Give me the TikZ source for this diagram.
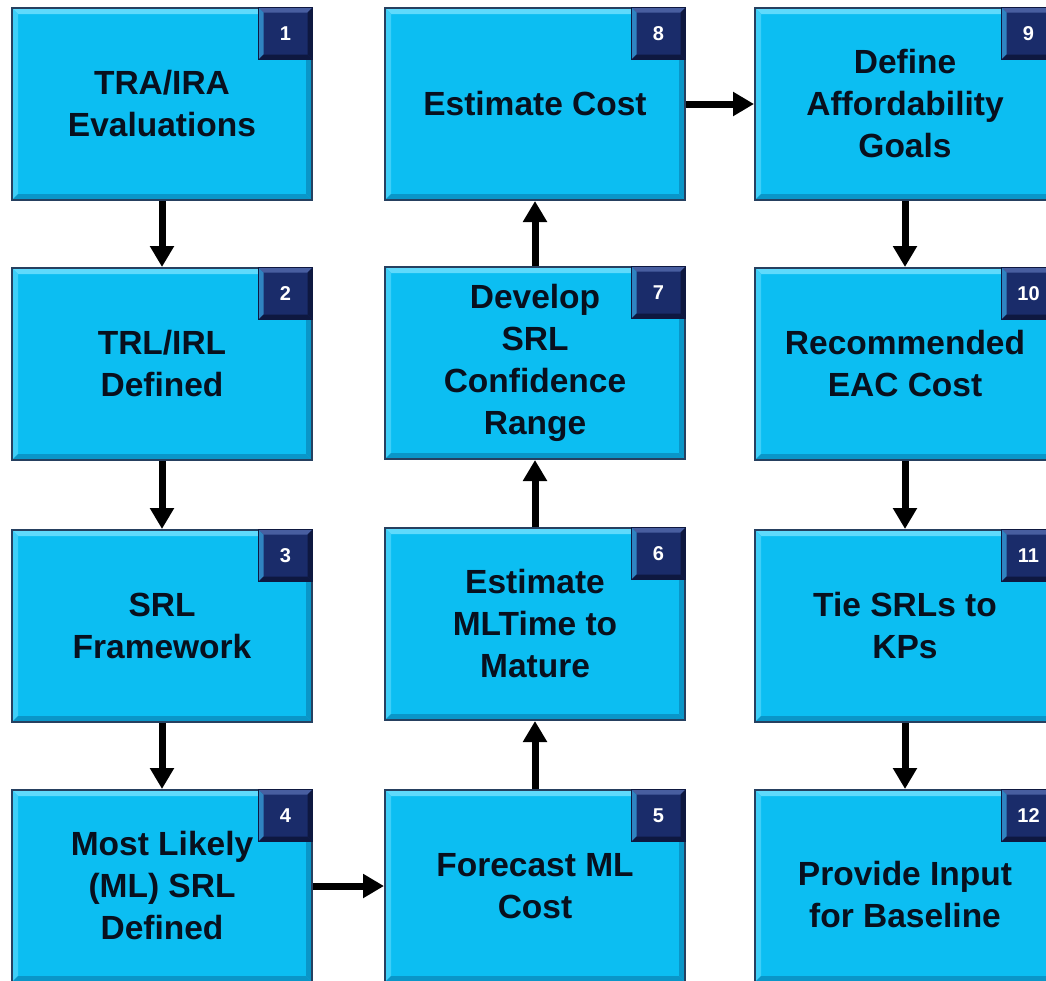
\documentclass[tikz,border=0pt]{standalone}
\usepackage{fontspec}
\setmainfont{Liberation Sans}
\usetikzlibrary{arrows.meta}

\definecolor{boxcyan}{RGB}{12,190,242}
\definecolor{boxlight}{RGB}{95,218,252}
\definecolor{boxshade}{RGB}{10,150,200}
\definecolor{boxedge}{RGB}{38,64,96}
\definecolor{badgefill}{RGB}{26,44,106}
\definecolor{badgelight}{RGB}{72,94,160}
\definecolor{badgeshade}{RGB}{14,24,64}
\definecolor{txtdark}{RGB}{8,16,30}

\tikzset{
  bevel/.style n args={3}{
    path picture={
      \fill[#1] (path picture bounding box.north west) -- (path picture bounding box.north east)
        -- ([xshift=-#3,yshift=-#3]path picture bounding box.north east)
        -- ([xshift=#3,yshift=-#3]path picture bounding box.north west) -- cycle;
      \fill[#1!60!boxcyan] (path picture bounding box.north west) -- ([xshift=#3,yshift=-#3]path picture bounding box.north west)
        -- ([xshift=#3,yshift=#3]path picture bounding box.south west)
        -- (path picture bounding box.south west) -- cycle;
      \fill[#2] (path picture bounding box.south west) -- (path picture bounding box.south east)
        -- ([xshift=-#3,yshift=#3]path picture bounding box.south east)
        -- ([xshift=#3,yshift=#3]path picture bounding box.south west) -- cycle;
      \fill[#2] (path picture bounding box.north east) -- ([xshift=-#3,yshift=-#3]path picture bounding box.north east)
        -- ([xshift=-#3,yshift=#3]path picture bounding box.south east)
        -- (path picture bounding box.south east) -- cycle;
    }},
  stepbox/.style={rectangle, minimum width=300pt, minimum height=192pt, inner sep=0pt,
    fill=boxcyan, draw=boxedge, line width=2pt, align=center, text=txtdark,
    font=\fontsize{33.5}{42}\selectfont\bfseries,
    bevel={boxlight}{boxshade}{6pt}},
  badge/.style={rectangle, anchor=north east, minimum width=54pt, minimum height=52pt, inner sep=0pt,
    fill=badgefill, draw=badgeshade, line width=1pt, text=white,
    font=\fontsize{20}{24}\selectfont\bfseries,
    bevel={badgelight}{badgeshade}{5pt}},
  connector/.style={draw=black, line width=7pt, -{Triangle[width=23pt,length=21pt]}},
}

\begin{document}
\begin{tikzpicture}[x=1pt,y=-1pt]
  \useasboundingbox[fill=white] (0,0) rectangle (1046,980);

  % first column, top to bottom
  \node[stepbox] (b1) at (162,104) {TRA/IRA\\Evaluations};
  \node[stepbox] (b2) at (162,364) {TRL/IRL\\Defined};
  \node[stepbox] (b3) at (162,626) {SRL\\Framework};
  \node[stepbox] (b4) at (162,886) {Most Likely\\(ML) SRL\\Defined};

  % second column, bottom to top
  \node[stepbox] (b5) at (535,886) {Forecast ML\\Cost};
  \node[stepbox] (b6) at (535,624) {Estimate\\MLTime to\\Mature};
  \node[stepbox] (b7) at (535,363) {Develop\\SRL\\Confidence\\Range};
  \node[stepbox] (b8) at (535,104) {Estimate Cost};

  % third column, top to bottom
  \node[stepbox] (b9)  at (905,104) {Define\\Affordability\\Goals};
  \node[stepbox] (b10) at (905,364) {Recommended\\EAC Cost};
  \node[stepbox] (b11) at (905,626) {Tie SRLs to\\KPs};
  \node[stepbox] (b12) at (905,886) {\mbox{}\\Provide Input\\for Baseline};

  % step numbers
  \foreach \i in {1,...,12} {
    \node[badge] (n\i) at (b\i.north east) {\i};
  }

  % flow
  \draw[connector] (b1) -- (b2);
  \draw[connector] (b2) -- (b3);
  \draw[connector] (b3) -- (b4);
  \draw[connector] (b4) -- (b5);
  \draw[connector] (b5) -- (b6);
  \draw[connector] (b6) -- (b7);
  \draw[connector] (b7) -- (b8);
  \draw[connector] (b8) -- (b9);
  \draw[connector] (b9) -- (b10);
  \draw[connector] (b10) -- (b11);
  \draw[connector] (b11) -- (b12);
\end{tikzpicture}
\end{document}
